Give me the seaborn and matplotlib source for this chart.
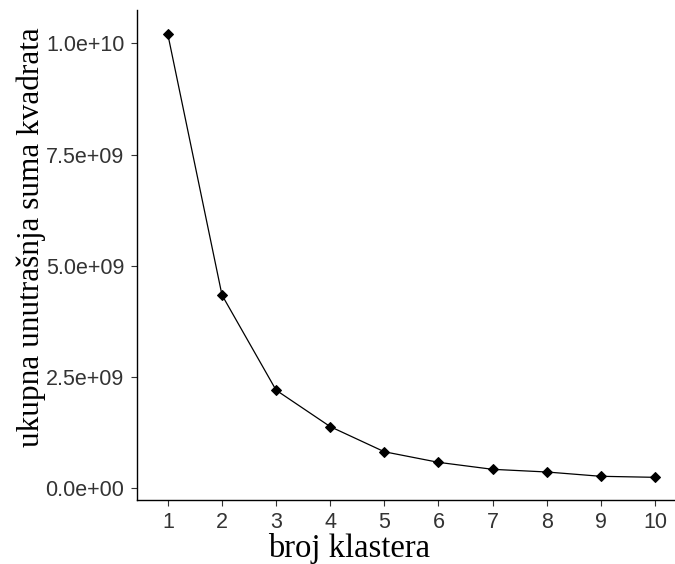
import seaborn as sns
import matplotlib.pyplot as plt
import pandas as pd

# number of clusters and total within-cluster sum of squares
klasteri = [1, 2, 3, 4, 5, 6, 7, 8, 9, 10]
wss = [1.02e10, 4.34e9, 2.20e9, 1.38e9, 0.815e9, 0.577e9, 0.42e9, 0.36e9, 0.263e9, 0.24e9]
y_ticks = [0, 2.5e9, 5.0e9, 7.5e9, 1.0e10]
y_tick_labels = ["0.0e+00", "2.5e+09", "5.0e+09", "7.5e+09", "1.0e+10"]

df = pd.DataFrame({"k": klasteri, "wss": wss})

sns.set_style("ticks")
fig = plt.figure(figsize=(6.75, 5.64), dpi=100)
ax = fig.add_axes([137 / 675, 64 / 564, 538 / 675, 490 / 564])

sns.lineplot(data=df, x="k", y="wss", ax=ax, color="black", linewidth=0.9,
             marker="D", markersize=5.5, markeredgecolor="black")

ax.set_xlim(0.43, 10.37)
ax.set_ylim(-0.27e9, 1.075e10)
ax.set_xticks(klasteri)
ax.set_xticklabels([str(k) for k in klasteri])
ax.set_yticks(y_ticks)
ax.set_yticklabels(y_tick_labels)

for lbl in ax.get_xticklabels() + ax.get_yticklabels():
    lbl.set_fontfamily("Liberation Sans")
    lbl.set_fontsize(15.5)
    lbl.set_color("#333333")
ax.tick_params(length=4, width=0.8, color="#333333", pad=5)

sns.despine(ax=ax)
for s in ["left", "bottom"]:
    ax.spines[s].set_linewidth(1.0)
    ax.spines[s].set_color("black")

ax.set_xlabel("")
ax.set_ylabel("")
fig.text(349 / 675, 1 - 549 / 564, "broj klastera", ha="center", va="center",
         fontfamily="Liberation Serif", fontsize=23.5, color="black")
fig.text(31 / 675, 1 - 237 / 564, "ukupna unutrašnja suma kvadrata", ha="center", va="center",
         rotation=90, fontfamily="Liberation Serif", fontsize=22.5, color="black")

fig.savefig("out.png", dpi=100)
